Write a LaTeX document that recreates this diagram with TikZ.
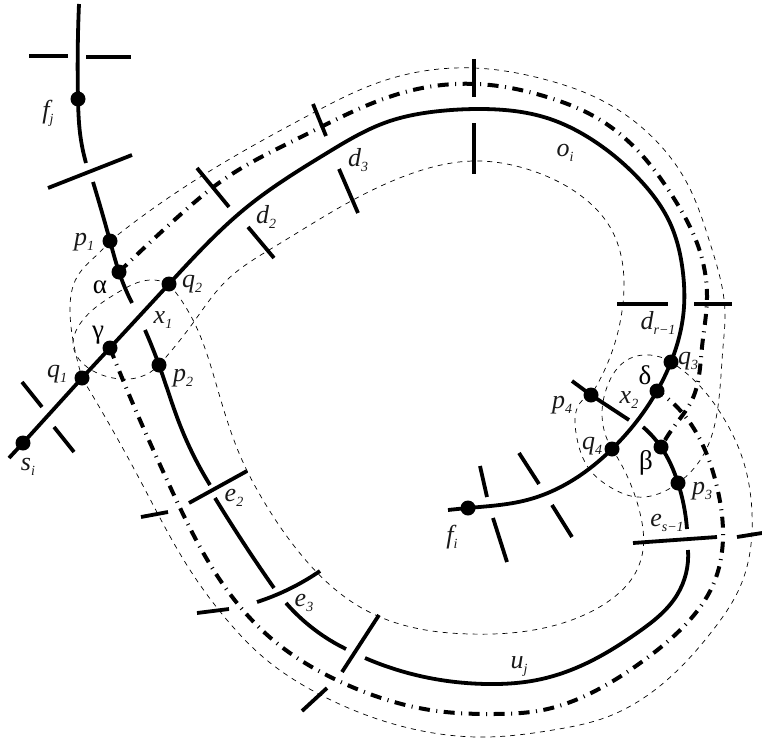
\documentclass[tikz,border=0pt]{standalone}
\usepackage{fontspec}
\usetikzlibrary{hobby}
\setmainfont{Liberation Serif}
\newcommand{\lbl}[2]{{\fontsize{26}{26}\selectfont\itshape #1}\raisebox{-5pt}{\fontsize{14}{14}\selectfont\itshape #2}}
\tikzset{
  thickline/.style={line width=3.8pt,line cap=butt},
  dashdotline/.style={line width=4pt,dash pattern=on 11pt off 6.5pt on 1pt off 6.5pt},
  thinline/.style={line width=0.7pt,dash pattern=on 5pt off 5pt},
  dotnode/.style={circle,fill=black,minimum size=15pt,inner sep=0pt},
  tag/.style={inner sep=0pt,text=black!90},
  greek/.style={inner sep=0pt,font=\fontsize{27}{27}\selectfont}
}
\begin{document}
\begin{tikzpicture}[x=1pt,y=-1pt,use Hobby shortcut]
\path[use as bounding box] (0,0) rectangle (762,741);
\coordinate (fj) at (78,99);
\coordinate (p1) at (110,241);
\coordinate (al) at (119,272);
\coordinate (q2) at (169,284);
\coordinate (ga) at (110,348);
\coordinate (q1) at (82,378);
\coordinate (p2) at (159,365);
\coordinate (si) at (23,443);
\coordinate (q3) at (671,362);
\coordinate (de) at (657,391);
\coordinate (p4) at (591,395);
\coordinate (q4) at (612,449);
\coordinate (be) at (661,447);
\coordinate (p3) at (678,483);
\coordinate (fi) at (468,508);
% thin dashed boundaries
\draw[thinline] (p1) .. (180,190) .. (313,113) .. (380,82) .. (474,68) .. (547,80) .. (597,98) .. (647,132) .. (687,183) .. (710,243) .. (725,313) .. (723,347) .. (717,413) .. (705,452) .. (p3);
\draw[thinline] (p1) .. (100,252) .. (77,277) .. (70,310) .. (78,363) .. (q1);
\draw[thinline] (q1) .. (140,480) .. (190,570) .. (227,620) .. (263,657) .. (317,693) .. (390,723) .. (487,737) .. (553,730) .. (607,717) .. (667,680) .. (713,630) .. (740,587) .. (752,513) .. (743,460) .. (723,417) .. (697,383) .. (q3);
\draw[thinline] (p2) .. (193,323) .. (227,280) .. (274,247) .. (353,200) .. (413,173) .. (474,161) .. (530,170) .. (580,195) .. (610,227) .. (623,267) .. (623,303) .. (p4);
\draw[thinline] (q2) .. (193,320) .. (217,387) .. (242,460) .. (263,500) .. (303,557) .. (360,607) .. (420,629) .. (470,634) .. (520,632) .. (577,618) .. (613,598) .. (633,577) .. (643,550) .. (640,513) .. (q4);
\draw[thinline] (q2) .. (150,280) .. (117,293) .. (78,327) .. (73,343) .. (87,367) .. (113,378) .. (140,377) .. (p2);
\draw[thinline] (p4) .. (580,403) .. (576,433) .. (590,470) .. (610,487) .. (637,497) .. (663,492) .. (p3);
\draw[thinline] (q3) .. (650,355) .. (627,360) .. (607,387) .. (602,413) .. (q4);
% thick dash-dot curves
\draw[dashdotline] (al) .. (180,215) .. (223,180) .. (305,135) .. (333,121) .. (413,90) .. (477,84) .. (547,97) .. (597,118) .. (640,153) .. (673,197) .. (697,243) .. (707,297) .. (702,347) .. (692,400) .. (673,428) .. (be);
\draw[dashdotline] (ga) .. (143,427) .. (167,480) .. (218,577) .. (273,640) .. (343,683) .. (437,711) .. (493,714) .. (543,710) .. (597,690) .. (647,658) .. (687,623) .. (713,585) .. (723,537) .. (717,487) .. (705,450) .. (667,398) .. (de);
% solid curves
\draw[thickline] (9,458) -- (si) -- (q1);
\draw[thickline] (q1) .. (q2) .. (247,207) .. (327,153) .. (387,122) .. (440,111) .. (480,109) .. (547,118) .. (597,143) .. (640,180) .. (670,223) .. (683,273) .. (684,307) .. (q3) .. (de) .. (q4) .. (573,480) .. (527,500) .. (fi) .. (448,510);
\draw[thickline] (79,4) .. (fj) .. (80,133) .. (86,163);
\draw[thickline] (93,182) .. (p1) .. (al) .. (132,303);
\draw[thickline] (145,330) .. (p2) .. (180,425) .. (210,485);
\draw[thickline] (215,498) .. (237,533) .. (274,588);
\draw[thickline] (286,603) .. (315,630) .. (346,649);
\draw[thickline] (365,658) .. (420,676) .. (487,684) .. (537,680) .. (587,663) .. (637,633) .. (677,595) .. (688,550);
\draw[thickline] (643,427) .. (be) .. (p3) .. (687,529);
\draw[thickline] (572,381) -- (p4) -- (629,420);
% cross bars
\draw[thickline] (29,56) -- (68,56);
\draw[thickline] (86,57) -- (131,57);
\draw[thickline] (48,188) -- (132,155);
\draw[thickline] (22,382) -- (42,407);
\draw[thickline] (54,427) -- (74,452);
\draw[thickline] (197,168) -- (229,207);
\draw[thickline] (248,227) -- (274,258);
\draw[thickline] (313,104) -- (326,136);
\draw[thickline] (339,169) -- (358,213);
\draw[thickline] (474,59) -- (474,97);
\draw[thickline] (474,123) -- (474,174);
\draw[thickline] (617,304) -- (668,304);
\draw[thickline] (694,304) -- (732,304);
\draw[thickline] (480,466) -- (487,497);
\draw[thickline] (493,518) -- (507,562);
\draw[thickline] (519,453) -- (539,484);
\draw[thickline] (552,505) -- (572,537);
\draw[thickline] (633,543) -- (717,537);
\draw[thickline] (737,537) -- (762,533);
\draw[thickline] (247,471) -- (189,503);
\draw[thickline] (141,517) -- (168,512);
\draw[thickline] (320,571) .. (297,585) .. (257,602);
\draw[thickline] (197,613) -- (229,609);
\draw[thickline] (379,615) -- (342,672);
\draw[thickline] (327,688) -- (302,711);
% dots
\foreach \n in {fj,p1,al,q2,ga,q1,p2,si,q3,de,p4,q4,be,p3,fi}
  \node[dotnode] (d\n) at (\n) {};
% labels
\node[tag] (lfj) at (48,113) {\lbl{f}{j}};
\node[tag] (lp1) at (84,242) {\lbl{p}{1}};
\node[greek] (lal) at (100,287) {α};
\node[greek] (lga) at (98,335) {γ};
\node[tag] (lq1) at (57,374) {\lbl{q}{1}};
\node[tag] (lq2) at (192,284) {\lbl{q}{2}};
\node[tag] (lx1) at (163,320) {\lbl{x}{1}};
\node[tag] (lp2) at (183,378) {\lbl{p}{2}};
\node[tag] (lsi) at (28,467) {\lbl{s}{i}};
\node[tag] (ld2) at (266,217) {\lbl{d}{2}};
\node[tag] (ld3) at (358,160) {\lbl{d}{3}};
\node[tag] (loi) at (565,153) {\lbl{o}{i}};
\node[tag] (ldr) at (658,323) {\lbl{d}{r−1}};
\node[tag] (lq3) at (688,361) {\lbl{q}{3}};
\node[greek] (lde) at (645,375) {δ};
\node[tag] (lx2) at (629,400) {\lbl{x}{2}};
\node[tag] (lp4) at (562,405) {\lbl{p}{4}};
\node[tag] (lq4) at (592,446) {\lbl{q}{4}};
\node[greek] (lbe) at (646,463) {β};
\node[tag] (lp3) at (702,491) {\lbl{p}{3}};
\node[tag] (les) at (667,523) {\lbl{e}{s−1}};
\node[tag] (lfi) at (452,537) {\lbl{f}{i}};
\node[tag] (le2) at (234,498) {\lbl{e}{2}};
\node[tag] (le3) at (304,603) {\lbl{e}{3}};
\node[tag] (luj) at (519,667) {\lbl{u}{j}};
\end{tikzpicture}
\end{document}
